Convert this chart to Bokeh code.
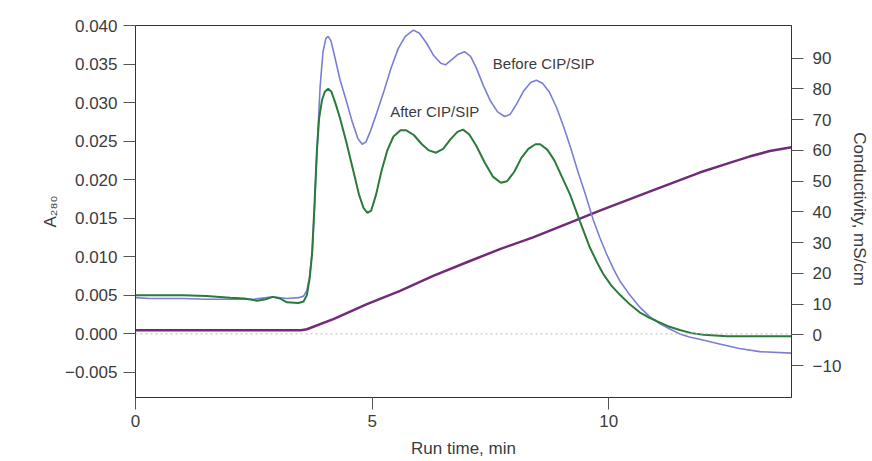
from bokeh.plotting import figure
from bokeh.models import Range1d, LinearAxis, FixedTicker, CustomJSTickFormatter, Span
from bokeh.core.properties import value
from bokeh.embed import file_html
from bokeh.resources import INLINE

# ---- data ----
time_before = [0.0, 0.3, 0.6, 1.0, 1.5, 2.0, 2.5, 2.9, 3.2, 3.45, 3.55, 3.62, 3.68, 3.74, 3.79,
               3.84, 3.9, 3.96, 4.02, 4.07, 4.13, 4.2, 4.32, 4.45, 4.58, 4.7, 4.79, 4.87, 4.97,
               5.1, 5.25, 5.4, 5.55, 5.7, 5.87, 6.0, 6.15, 6.3, 6.45, 6.55, 6.65, 6.8, 6.95,
               7.08, 7.2, 7.35, 7.5, 7.65, 7.8, 7.92, 8.05, 8.2, 8.35, 8.47, 8.6, 8.75, 8.9,
               9.05, 9.2, 9.35, 9.5, 9.67, 9.81, 9.95, 10.1, 10.23, 10.45, 10.65, 10.85, 11.08,
               11.3, 11.5, 11.7, 11.92, 12.34, 12.76, 13.19, 13.86]
a280_before = [0.0047, 0.0046, 0.0046, 0.0046, 0.0045, 0.0045, 0.0045, 0.0048, 0.0046, 0.0047,
               0.0049, 0.0056, 0.0075, 0.0110, 0.0175, 0.0245, 0.0320, 0.0365, 0.0383, 0.0386,
               0.0380, 0.0362, 0.0330, 0.0303, 0.0275, 0.0253, 0.0246, 0.0249, 0.0264, 0.0287,
               0.0315, 0.0345, 0.0370, 0.0386, 0.0394, 0.0390, 0.0377, 0.0361, 0.0351, 0.0349,
               0.0354, 0.0362, 0.0366, 0.0360, 0.0345, 0.0322, 0.0302, 0.0288, 0.0282, 0.0285,
               0.0298, 0.0315, 0.0326, 0.0329, 0.0325, 0.0313, 0.0293, 0.0268, 0.0240, 0.0210,
               0.0182, 0.0148, 0.0125, 0.0104, 0.0084, 0.0069, 0.0050, 0.0035, 0.0023, 0.0013,
               0.0006, 0.0000, -0.0004, -0.0007, -0.0013, -0.0019, -0.0023, -0.0025]

time_after = [0.0, 0.5, 1.0, 1.5, 2.0, 2.3, 2.57, 2.75, 2.9, 3.05, 3.2, 3.44, 3.55, 3.62, 3.68,
              3.73, 3.78, 3.83, 3.88, 3.94, 4.0, 4.07, 4.14, 4.22, 4.32, 4.45, 4.6, 4.72, 4.82,
              4.9, 4.98, 5.08, 5.2, 5.32, 5.45, 5.6, 5.72, 5.88, 6.05, 6.2, 6.35, 6.5, 6.65,
              6.8, 6.92, 7.05, 7.2, 7.38, 7.55, 7.72, 7.85, 8.0, 8.15, 8.3, 8.45, 8.55, 8.7,
              8.85, 9.0, 9.18, 9.39, 9.6, 9.75, 9.88, 10.05, 10.23, 10.45, 10.65, 10.85, 11.0,
              11.25, 11.5, 11.75, 12.0, 12.5, 13.86]
a280_after = [0.0050, 0.0050, 0.0050, 0.0049, 0.0047, 0.0046, 0.0043, 0.0045, 0.0048, 0.0046,
              0.0041, 0.0040, 0.0042, 0.0050, 0.0072, 0.0104, 0.0165, 0.0235, 0.0280, 0.0303,
              0.0314, 0.0318, 0.0314, 0.0300, 0.0280, 0.0250, 0.0212, 0.0181, 0.0163, 0.0157,
              0.0160, 0.0180, 0.0212, 0.0238, 0.0256, 0.0264, 0.0264, 0.0258, 0.0246, 0.0238,
              0.0235, 0.0240, 0.0252, 0.0262, 0.0265, 0.0259, 0.0244, 0.0222, 0.0204, 0.0196,
              0.0198, 0.0210, 0.0228, 0.0240, 0.0246, 0.0246, 0.0239, 0.0225, 0.0205, 0.0181,
              0.0146, 0.0112, 0.0093, 0.0078, 0.0063, 0.0051, 0.0038, 0.0028, 0.0021, 0.0017,
              0.0010, 0.0005, 0.0001, -0.0001, -0.0003, -0.0003]

time_cond = [0.0, 3.5, 3.62, 4.18, 4.89, 5.59, 6.29, 7.0, 7.7, 8.4, 9.1, 9.81, 10.86, 11.92,
             12.6, 12.97, 13.4, 13.86]
conductivity = [1.5, 1.5, 1.8, 5.1, 10.0, 14.3, 19.2, 23.6, 27.9, 31.7, 36.0, 40.4, 46.6, 52.8,
                56.2, 58.0, 59.8, 61.0]

x_ticks = [0, 5, 10]
a280_ticks = [-0.005, 0.0, 0.005, 0.010, 0.015, 0.020, 0.025, 0.030, 0.035, 0.040]
cond_ticks = [-10, 0, 10, 20, 30, 40, 50, 60, 70, 80, 90]

annotation_texts = ["Before CIP/SIP", "After CIP/SIP"]
annotation_time = [7.55, 5.38]
annotation_a280 = [0.0351, 0.0289]

FONT = "Liberation Sans"
TXT = "#3c3c3c"
AX = "#333333"

p = figure(width=872, height=461, x_range=Range1d(0, 13.86), y_range=Range1d(-0.00825, 0.040),
           output_backend="svg", toolbar_location=None,
           min_border_left=135, min_border_right=80, min_border_top=25, min_border_bottom=64)
p.extra_y_ranges = {"cond": Range1d(-20.4, 100.65)}

p.xgrid.visible = False
p.ygrid.visible = False
p.outline_line_color = AX
p.outline_line_width = 1
p.background_fill_color = "white"
p.border_fill_color = "white"

def style_axis(ax):
    ax.axis_line_color = AX
    ax.major_tick_line_color = "#555555"
    ax.major_tick_out = 12
    ax.major_tick_in = 0
    ax.minor_tick_line_color = None
    ax.major_label_text_font = FONT
    ax.major_label_text_font_size = "17px"
    ax.major_label_text_color = TXT
    ax.axis_label_text_font = FONT
    ax.axis_label_text_font_size = "17px"
    ax.axis_label_text_color = TXT
    ax.axis_label_text_font_style = "normal"

xa = p.xaxis[0]
style_axis(xa)
xa.ticker = FixedTicker(ticks=x_ticks)
xa.axis_label = "Run time, min"
xa.major_label_standoff = 5
xa.axis_label_standoff = 9

ya = p.yaxis[0]
style_axis(ya)
ya.ticker = FixedTicker(ticks=a280_ticks)
ya.formatter = CustomJSTickFormatter(code="return (tick < -1e-9 ? '\u2212' : '') + Math.abs(tick).toFixed(3);")
ya.axis_label = "A\u2082\u2088\u2080"
ya.major_label_standoff = 6
ya.axis_label_standoff = 2

ra = LinearAxis(y_range_name="cond")
style_axis(ra)
ra.ticker = FixedTicker(ticks=cond_ticks)
ra.formatter = CustomJSTickFormatter(code="return (tick < 0 ? '\u2212' : '') + Math.abs(tick).toFixed(0);")
ra.axis_label = "Conductivity,  mS/cm"
ra.major_label_standoff = 9
ra.axis_label_standoff = 6
p.add_layout(ra, "right")

p.add_layout(Span(location=0, dimension="width", line_color="#bbbbbb", line_width=1, line_dash="2 3"))

p.line(time_cond, conductivity, y_range_name="cond", line_color="#742a7a", line_width=2.5)
p.line(time_before, a280_before, line_color="#7a7fd4", line_width=1.6)
p.line(time_after, a280_after, line_color="#2a7a3a", line_width=2)

p.text(x=annotation_time, y=annotation_a280, text=annotation_texts, text_font=value(FONT),
       text_font_size="15px", text_color=TXT, text_baseline="middle", text_align="left")

open("out.html", "w").write(file_html(p, INLINE))
